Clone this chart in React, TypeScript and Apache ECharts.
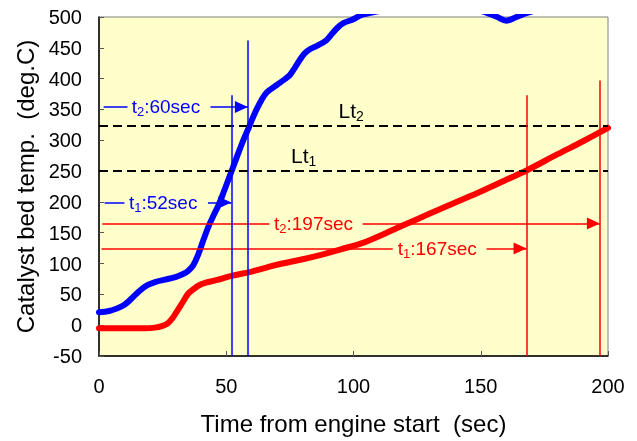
import React, { useEffect, useRef } from "react";
import * as echarts from "echarts";

// ---- data ----
const blueTime = [0, 4, 7, 10, 13, 16, 19, 22, 26, 30, 33, 35, 37, 39, 41, 43, 45, 47, 49, 51, 53, 55, 57, 59, 61, 63.8, 66, 70, 73, 75, 77, 79, 80.8, 83, 86, 89.3, 91, 93.8, 96, 99.7, 103, 108, 118, 130, 142, 150, 154, 156.5, 160, 164, 167, 172, 182, 200];
const blueTemp = [21, 23, 27, 33, 44, 56, 65, 70, 74, 78, 83, 88, 97, 115, 138, 160, 178, 195, 216, 238, 260, 282, 303, 322, 342, 365, 378, 390, 399, 406, 418, 431, 441, 448, 454, 462, 470, 483, 490, 496, 503, 508, 515, 518, 516, 510, 504, 500, 494, 500, 505, 511, 516, 520];

const redTime = [0, 10, 18, 22, 25, 27, 29, 31, 33, 35, 37, 39, 42, 46, 52, 60, 67, 72, 80, 88, 95, 104, 112, 120, 130, 140, 150, 160, 168, 180, 190, 200];
const redTemp = [-5, -5, -5, -4, -1, 3, 12, 25, 38, 51, 58, 64, 69, 73, 80, 87, 95, 100, 107, 115, 123, 134, 148, 163, 181, 199, 217, 236, 251, 277, 298, 320];

const thresholdValues = [250, 323]; // Lt1, Lt2
const thresholdNames = ["1", "2"];

// blue annotation: t1 = 52 s, t2 = 60 s
const blueMarkTimes = [52, 58.5];
const blueMarkTops = [373, 462];
const blueArrowLevels = [199, 354];
const blueArrowStarts = [2.2, 1.8];
const blueGapStarts = [10, 11.2];
const blueGapEnds = [42.8, 43.8];
const blueLabelTimes = [25.2, 26.3];
const blueLabelSeconds = ["52", "60"];

// red annotation: t1 = 167 s, t2 = 197 s
const redMarkTimes = [168, 196.8];
const redMarkTops = [373, 397];
const redArrowLevels = [124.5, 165];
const redArrowStarts = [1, 1.3];
const redGapStarts = [115.4, 67];
const redGapEnds = [152.3, 103.6];
const redLabelTimes = [132.9, 84.3];
const redLabelSeconds = ["167", "197"];

const ltLabelTimes = [80.4, 99.1];
const ltLabelTemps = [276, 349];

const xMin = 0, xMax = 200, xInterval = 50;
const yMin = -50, yMax = 500, yInterval = 50;

const FONT = "'Liberation Sans', Arial, sans-serif";

function zip(a: number[], b: number[]) {
  return a.map((v, i) => [v, b[i]]);
}

function annotationLines(
  times: number[], tops: number[], levels: number[], starts: number[],
  gapStarts: number[], gapEnds: number[]
) {
  const out: any[] = [];
  times.forEach((t, i) => {
    out.push([{ coord: [t, yMin], symbol: "none" }, { coord: [t, tops[i]], symbol: "none" }]);
    out.push([{ coord: [starts[i], levels[i]], symbol: "none" }, { coord: [gapStarts[i], levels[i]], symbol: "none" }]);
    out.push([
      { coord: [gapEnds[i], levels[i]], symbol: "none" },
      { coord: [t, levels[i]], symbol: "triangle", symbolSize: [12, 13], symbolOffset: [0, 6.5] },
    ]);
  });
  return out;
}

const rich = (color: string, main: number, sub: number, lh: number) => ({
  m: { fontSize: main, color, fontFamily: FONT, lineHeight: lh, verticalAlign: "middle" },
  s: { fontSize: sub, color, fontFamily: FONT, verticalAlign: "bottom" },
});

function annotationLabels(times: number[], levels: number[], secs: string[], color: string) {
  return times.map((t, i) => ({
    coord: [t, levels[i]],
    symbol: "circle",
    symbolSize: 0,
    label: {
      show: true,
      position: "inside",
      formatter: `{m|t}{s|${i + 1}}{m|:${secs[i]}sec}`,
      rich: rich(color, 19, 13, 23),
    },
  }));
}

export default function App() {
  const ref = useRef<HTMLDivElement>(null);
  useEffect(() => {
    if (!ref.current) return;
    const chart = echarts.init(ref.current, null, { renderer: "svg" });
    const ltLabels = ltLabelTimes.map((t, i) => ({
      coord: [t, ltLabelTemps[i]],
      symbol: "circle",
      symbolSize: 0,
      label: {
        show: true,
        position: "inside",
        formatter: `{m|Lt}{s|${thresholdNames[i]}}`,
        rich: rich("#000000", 21, 14, 26),
      },
    }));
    chart.setOption({
      animation: false,
      textStyle: { fontFamily: FONT },
      grid: {
        left: 99, right: 29, top: 17, bottom: 85,
        show: true, backgroundColor: "#FFFFCC", borderColor: "#808080", borderWidth: 1,
        outerBoundsMode: "none",
      },
      xAxis: {
        type: "value", min: xMin, max: xMax, interval: xInterval,
        name: "Time from engine start  (sec)", nameLocation: "middle", nameGap: 55,
        nameTextStyle: { fontSize: 24, color: "#000", fontFamily: FONT },
        axisLine: { show: true, onZero: false, lineStyle: { color: "#000", width: 1.5 } },
        axisTick: { show: true, inside: true, length: 5, lineStyle: { color: "#555" } },
        axisLabel: { fontSize: 20, color: "#000", margin: 20, fontFamily: FONT },
        splitLine: { show: false },
      },
      yAxis: {
        type: "value", min: yMin, max: yMax, interval: yInterval,
        name: "Catalyst bed temp.  (deg.C)", nameLocation: "middle", nameGap: 62,
        nameTextStyle: { fontSize: 24, color: "#000", fontFamily: FONT },
        axisLine: { show: true, onZero: false, lineStyle: { color: "#000", width: 1.5 } },
        axisTick: { show: true, inside: true, length: 5, lineStyle: { color: "#555" } },
        axisLabel: { fontSize: 20, color: "#000", margin: 17, fontFamily: FONT },
        splitLine: { show: false },
      },
      series: [
        {
          type: "line", name: "thresholds", data: [], silent: true,
          markLine: {
            silent: true, symbol: ["none", "none"], label: { show: false },
            lineStyle: { color: "#000", type: [9, 5], width: 2 },
            emphasis: { disabled: true },
            data: thresholdValues.map((v) => [{ coord: [xMin, v] }, { coord: [xMax, v] }]),
          },
          markPoint: { silent: true, data: ltLabels },
        },
        {
          type: "line", name: "red", data: zip(redTime, redTemp), smooth: 0.35,
          showSymbol: false, clip: true,
          lineStyle: { color: "#FF0000", width: 6, cap: "round", join: "round" }, itemStyle: { color: "#FF0000" },
          markLine: {
            silent: true, symbol: ["none", "none"], label: { show: false },
            lineStyle: { color: "#FF0000", type: "solid", width: 1.5 },
            itemStyle: { color: "#FF0000" },
            emphasis: { disabled: true },
            data: annotationLines(redMarkTimes, redMarkTops, redArrowLevels, redArrowStarts, redGapStarts, redGapEnds),
          },
          markPoint: { silent: true, data: annotationLabels(redLabelTimes, redArrowLevels, redLabelSeconds, "#FF0000") },
        },
        {
          type: "line", name: "blue", data: zip(blueTime, blueTemp), smooth: 0.35,
          showSymbol: false, clip: true,
          lineStyle: { color: "#0000FF", width: 6, cap: "round", join: "round" }, itemStyle: { color: "#0000FF" },
          markLine: {
            silent: true, symbol: ["none", "none"], label: { show: false },
            lineStyle: { color: "#0000FF", type: "solid", width: 1.5 },
            itemStyle: { color: "#0000FF" },
            emphasis: { disabled: true },
            data: annotationLines(blueMarkTimes, blueMarkTops, blueArrowLevels, blueArrowStarts, blueGapStarts, blueGapEnds),
          },
          markPoint: { silent: true, data: annotationLabels(blueLabelTimes, blueArrowLevels, blueLabelSeconds, "#0000FF") },
        },
      ],
    });
    return () => chart.dispose();
  }, []);
  return <div ref={ref} style={{ position: "fixed", left: 0, top: 0, width: 637, height: 441 }} />;
}
